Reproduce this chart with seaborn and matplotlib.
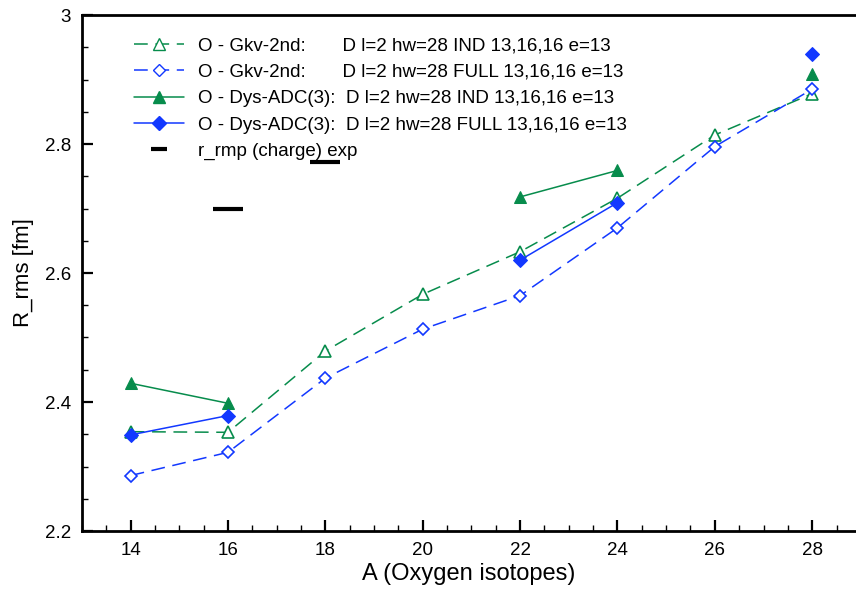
import numpy as np
import pandas as pd
import matplotlib
matplotlib.use("Agg")
import matplotlib.pyplot as plt
from matplotlib.lines import Line2D
from matplotlib.ticker import MultipleLocator
import seaborn as sns

# ---- data ----
A = [14, 16, 18, 20, 22, 24, 26, 28]
gkv_ind = [2.354, 2.353, 2.479, 2.567, 2.633, 2.716, 2.814, 2.878]
gkv_full = [2.286, 2.322, 2.437, 2.513, 2.565, 2.670, 2.796, 2.885]
dys_ind_A = [14, 16, 22, 24, 28]
dys_ind = [2.429, 2.398, 2.718, 2.759, 2.909]
dys_ind_seg = [0, 0, 1, 1, 2]
dys_full_A = [14, 16, 22, 24, 28]
dys_full = [2.349, 2.379, 2.620, 2.709, 2.939]
dys_full_seg = [0, 0, 1, 1, 2]
exp_A = [16, 18]
exp_r = [2.699, 2.772]

labels = [
    "O - Gkv-2nd:       D l=2 hw=28 IND 13,16,16 e=13",
    "O - Gkv-2nd:       D l=2 hw=28 FULL 13,16,16 e=13",
    "O - Dys-ADC(3):  D l=2 hw=28 IND 13,16,16 e=13",
    "O - Dys-ADC(3):  D l=2 hw=28 FULL 13,16,16 e=13",
    "r_rmp (charge) exp",
]

GREEN = "#078c4c"
BLUE = "#1238ff"

sns.set_theme(style="ticks")
plt.rcParams['font.family'] = ['Liberation Sans', 'DejaVu Sans']
plt.rcParams.update({'text.color': 'black', 'axes.labelcolor': 'black',
                     'xtick.color': 'black', 'ytick.color': 'black'})

fig = plt.figure(figsize=(8.56, 5.91), dpi=100)
ax = fig.add_axes([82/856, 60/591, 1 - 82/856, (531-15)/591])

dash = (0, (9, 5))

sns.lineplot(x=A, y=gkv_ind, ax=ax, color=GREEN, lw=1.1, linestyle=dash,
             marker='^', markersize=8, markerfacecolor='white',
             markeredgecolor=GREEN, markeredgewidth=1.2, legend=False)
sns.lineplot(x=A, y=gkv_full, ax=ax, color=BLUE, lw=1.1, linestyle=dash,
             marker='D', markersize=6.5, markerfacecolor='white',
             markeredgecolor=BLUE, markeredgewidth=1.2, legend=False)

df_ind = pd.DataFrame({"A": dys_ind_A, "R": dys_ind, "seg": dys_ind_seg})
for s, g in df_ind.groupby("seg"):
    sns.lineplot(data=g, x="A", y="R", ax=ax, color=GREEN, lw=1.1,
                 marker='^', markersize=8.5, markerfacecolor=GREEN,
                 markeredgecolor=GREEN, legend=False)
df_full = pd.DataFrame({"A": dys_full_A, "R": dys_full, "seg": dys_full_seg})
for s, g in df_full.groupby("seg"):
    sns.lineplot(data=g, x="A", y="R", ax=ax, color=BLUE, lw=1.1,
                 marker='D', markersize=7, markerfacecolor=BLUE,
                 markeredgecolor=BLUE, legend=False)

sns.scatterplot(x=exp_A, y=exp_r, ax=ax, marker='_', s=450, color='black',
                linewidth=3, legend=False)

ax.set_xlim(13, 28.9)
ax.set_ylim(2.2, 3.0)
ax.xaxis.set_major_locator(MultipleLocator(2))
ax.xaxis.set_minor_locator(MultipleLocator(0.5))
ax.yaxis.set_minor_locator(MultipleLocator(0.05))
ax.set_yticks([2.2, 2.4, 2.6, 2.8, 3.0])
ax.set_yticklabels(["2.2", "2.4", "2.6", "2.8", "3"])
ax.tick_params(which='major', direction='in', length=8, width=1.6,
               labelsize=13.5, pad=8, top=False, right=False,
               colors='black')
ax.tick_params(which='minor', direction='in', length=4, width=1.0,
               top=False, right=False, colors='black')
for side in ['left', 'bottom', 'top']:
    ax.spines[side].set_linewidth(2)
    ax.spines[side].set_color('black')
ax.spines['right'].set_visible(False)

ax.set_xlabel("A (Oxygen isotopes)", fontsize=17, labelpad=3, color='black')
ax.set_ylabel("R_rms [fm]", fontsize=16, labelpad=8, color='black')

handles = [
    Line2D([], [], color=GREEN, lw=1.1, linestyle=dash, marker='^', markersize=8,
           markerfacecolor='white', markeredgecolor=GREEN),
    Line2D([], [], color=BLUE, lw=1.1, linestyle=dash, marker='D', markersize=6.5,
           markerfacecolor='white', markeredgecolor=BLUE),
    Line2D([], [], color=GREEN, lw=1.1, marker='^', markersize=8.5,
           markerfacecolor=GREEN, markeredgecolor=GREEN),
    Line2D([], [], color=BLUE, lw=1.1, marker='D', markersize=7,
           markerfacecolor=BLUE, markeredgecolor=BLUE),
    Line2D([], [], color='black', lw=0, marker='_', markersize=12,
           markeredgewidth=3),
]
leg = ax.legend(handles, labels, loc='upper left', bbox_to_anchor=(0.057, 0.971),
                frameon=False, fontsize=13.5, handlelength=2.7, handletextpad=0.75,
                labelspacing=0.49, borderaxespad=0)
for t in leg.get_texts():
    t.set_color('black')

fig.savefig("out.png", dpi=100)
